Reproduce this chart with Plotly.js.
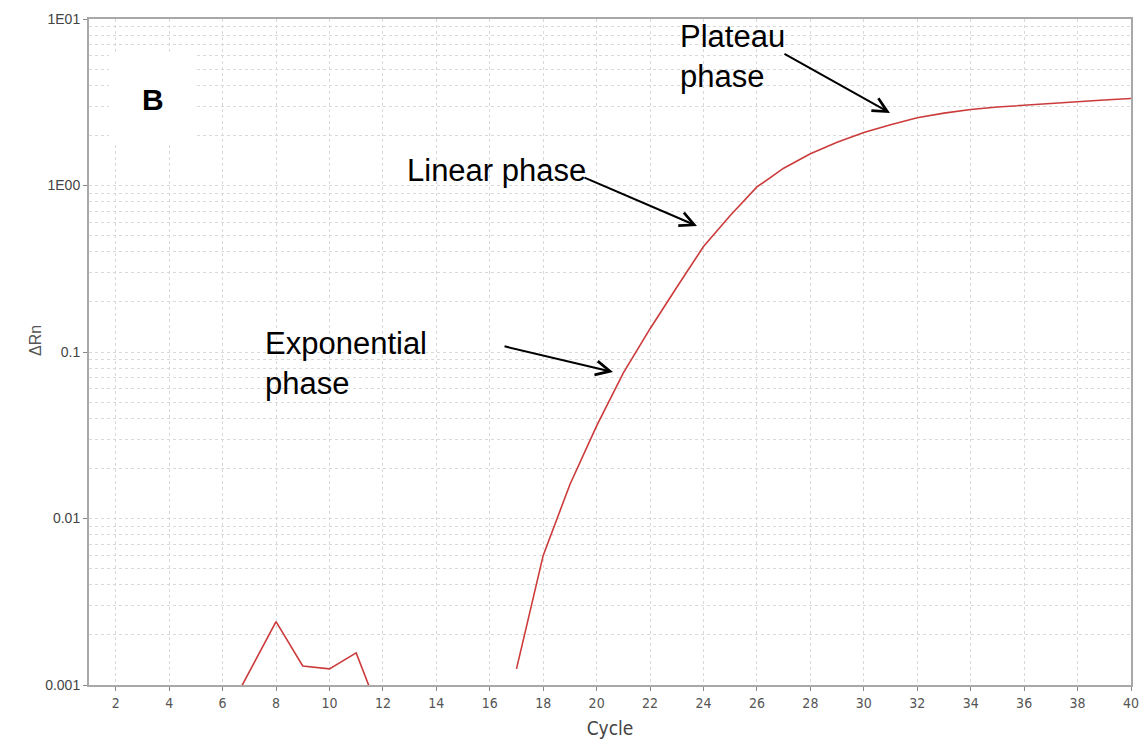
<!DOCTYPE html>
<html>
<head>
<meta charset="utf-8">
<script src="https://cdn.plot.ly/plotly-3.0.1.min.js"></script>
<style>html,body{margin:0;padding:0;background:#fff;}#chart{width:1147px;height:756px;}</style>
</head>
<body>
<div id="chart"></div>
<script>
const cycles = [1,2,3,4,5,6,7,8,9,10,11,12,13,14,15,16,17,18,19,20,21,22,23,24,25,26,27,28,29,30,31,32,33,34,35,36,37,38,39,40];
const deltaRn = [null,null,null,null,null,0.0006,0.0012,0.0024,0.0013,0.00125,0.00156,0.0006,null,null,null,null,
  0.00125,0.006,0.016,0.036,0.075,0.138,0.245,0.43,0.66,0.98,1.27,1.55,1.82,2.08,2.32,2.55,2.72,2.86,2.96,3.04,3.12,3.19,3.26,3.33];
const xTicks = [2,4,6,8,10,12,14,16,18,20,22,24,26,28,30,32,34,36,38,40];
const yTickVals = [0.001,0.01,0.1,1,10];
const yTickText = ['0.001','0.01','0.1','1E00','1E01'];

const narrow = '"Liberation Sans Narrow", "DejaVu Sans Condensed", "Arial Narrow", sans-serif';
const arial = 'Arial, "Liberation Sans", sans-serif';
const gridC = '#d9d9d9';

const trace = {
  x: cycles, y: deltaRn, type: 'scatter', mode: 'lines',
  line: {color: '#cc3b3b', width: 1.6}, connectgaps: false, hoverinfo: 'x+y'
};

const textFont = {family: arial, size: 31, color: '#000'};
const layout = {
  width: 1147, height: 756,
  margin: {l: 89, r: 16, t: 19, b: 71},
  paper_bgcolor: '#fff', plot_bgcolor: '#fff',
  showlegend: false,
  xaxis: {
    range: [1, 40], tickmode: 'array', tickvals: xTicks,
    ticks: 'outside', ticklen: 4, tickcolor: '#888', tickwidth: 1,
    showline: true, linecolor: '#a8a8a8', linewidth: 2, mirror: true,
    showgrid: true, gridcolor: gridC, griddash: 'dot', gridwidth: 1,
    zeroline: false,
    tickfont: {family: narrow, size: 14, color: '#555'},
    title: {text: 'Cycle', font: {family: narrow, size: 19, color: '#444'}, standoff: 12}
  },
  yaxis: {
    type: 'log', range: [-3, 1], tickmode: 'array', tickvals: yTickVals, ticktext: yTickText,
    ticks: 'outside', ticklen: 4, tickcolor: '#888', tickwidth: 1,
    showline: true, linecolor: '#a8a8a8', linewidth: 2, mirror: true,
    showgrid: true, gridcolor: gridC, griddash: 'dot', gridwidth: 1,
    minor: {dtick: 'D1', showgrid: true, gridcolor: gridC, griddash: 'dot', gridwidth: 1, ticks: ''},
    zeroline: false,
    tickfont: {family: arial, size: 14, color: '#444'}
  },
  shapes: [
    {type: 'rect', xref: 'paper', yref: 'paper', x0: 0.0192, x1: 0.1008, y0: 0.8153, y1: 0.949,
     fillcolor: '#fff', line: {width: 0}, layer: 'above'}
  ],
  annotations: [
    {xref: 'paper', yref: 'paper', x: -0.062, y: 0.518, text: 'ΔRn', textangle: -90, showarrow: false,
     font: {family: arial, size: 16, color: '#555'}},
    {xref: 'paper', yref: 'paper', x: 0.0494, y: 0.907, text: '<b>B</b>', showarrow: false,
     font: {family: arial, size: 30, color: '#000'}},
    {xref: 'paper', yref: 'paper', x: 0.5653, y: 0.9437, xanchor: 'left', yanchor: 'middle', align: 'left',
     text: 'Plateau<br>phase', showarrow: false, font: textFont},
    {xref: 'paper', yref: 'paper', x: 0.3033, y: 0.7718, xanchor: 'left', yanchor: 'middle', align: 'left',
     text: 'Linear phase', showarrow: false, font: textFont},
    {xref: 'paper', yref: 'paper', x: 0.167, y: 0.4827, xanchor: 'left', yanchor: 'middle', align: 'left',
     text: 'Exponential<br>phase', showarrow: false, font: textFont},
    {xref: 'paper', yref: 'paper', x: 0.7687, y: 0.8589, ax: -107, ay: -60, axref: 'pixel', ayref: 'pixel',
     text: '', showarrow: true, arrowhead: 5, arrowsize: 1.4, arrowwidth: 2, arrowcolor: '#000'},
    {xref: 'paper', yref: 'paper', x: 0.5835, y: 0.6892, ax: -114, ay: -49, axref: 'pixel', ayref: 'pixel',
     text: '', showarrow: true, arrowhead: 5, arrowsize: 1.4, arrowwidth: 2, arrowcolor: '#000'},
    {xref: 'paper', yref: 'paper', x: 0.5029, y: 0.470, ax: -110, ay: -26, axref: 'pixel', ayref: 'pixel',
     text: '', showarrow: true, arrowhead: 5, arrowsize: 1.4, arrowwidth: 2, arrowcolor: '#000'}
  ]
};

Plotly.newPlot('chart', [trace], layout, {displayModeBar: false, staticPlot: true});
</script>
</body>
</html>
